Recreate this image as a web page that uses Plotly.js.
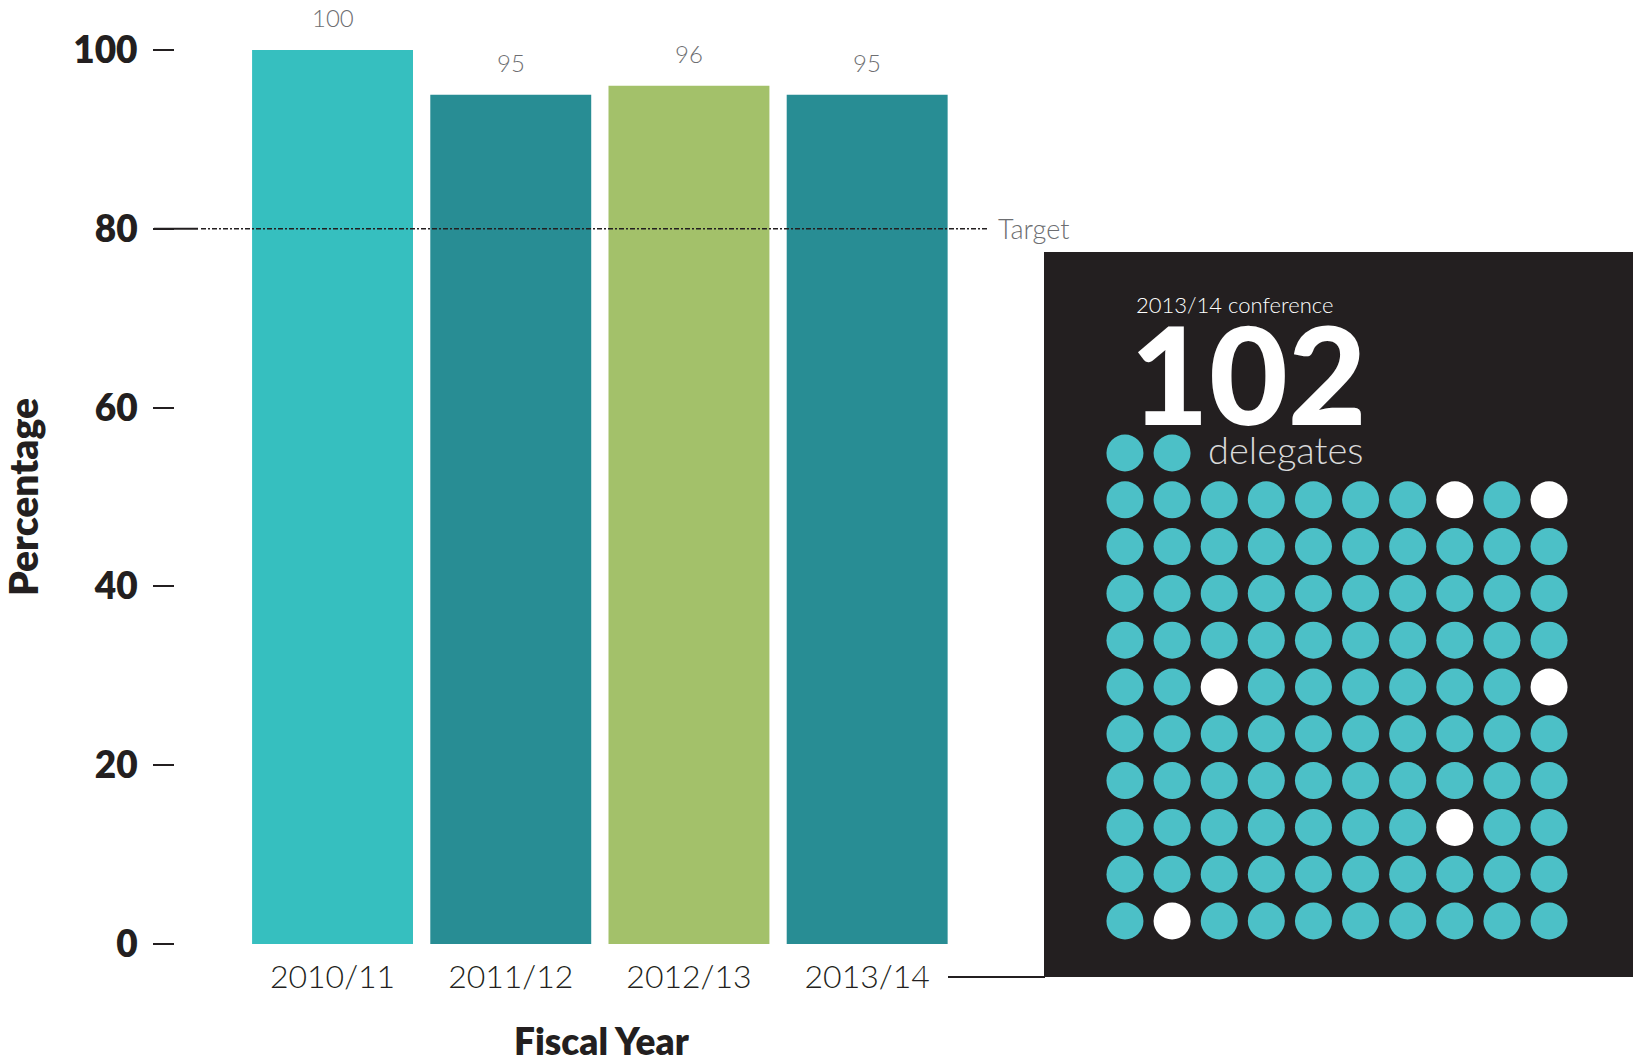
<!DOCTYPE html>
<html>
<head>
<meta charset="utf-8">
<script src="https://cdn.plot.ly/plotly-3.0.1.min.js"></script>
<style>html,body{margin:0;padding:0;background:#fff;}#chart{width:1634px;height:1064px;}</style>
</head>
<body>
<div id="chart"></div>
<script>
// ---- data ----
const fiscalYears = ["2010/11", "2011/12", "2012/13", "2013/14"];
const percentages = [100, 95, 96, 95];
const barColors = ["#36bfbf", "#288d94", "#a3c16a", "#288d94"];
const targetValue = 80;
const yTickValues = [0, 20, 40, 60, 80, 100];
const delegateCount = 102;
const conferenceLabel = "2013/14 conference";
// highlighted (white) dots as [row, column] in the 10x10 grid (rows 1..10)
const highlightedDots = [[1, 8], [1, 10], [5, 3], [5, 10], [8, 8], [10, 2]];

// ---- helpers (pixel -> paper) ----
const W = 1634, H = 1064;
const px = x => x / W;
const py = y => 1 - y / H;

// ---- dot grid layout ----
const extra = delegateCount - 100; // dots on the top row next to "delegates"
const dotX = [], dotY = [], dotC = [];
for (let i = 0; i < delegateCount; i++) {
  let row, col;
  if (i < extra) { row = 0; col = i + 1; }
  else { const k = i - extra; row = Math.floor(k / 10) + 1; col = (k % 10) + 1; }
  dotX.push(col); dotY.push(row);
  const white = highlightedDots.some(d => d[0] === row && d[1] === col);
  dotC.push(white ? "#ffffff" : "#4cc0c7");
}

const lightFont = {family: "Lato, 'Open Sans', sans-serif", weight: 300};
const boldFont = {family: "Lato, 'Open Sans', sans-serif", weight: 800};

const traces = [
  {
    type: "bar", x: fiscalYears, y: percentages,
    marker: {color: barColors, line: {width: 0}},
    hoverinfo: "x+y", xaxis: "x", yaxis: "y"
  },
  {
    type: "scatter", mode: "markers", x: dotX, y: dotY,
    marker: {color: dotC, size: 37, line: {width: 0}},
    hoverinfo: "skip", xaxis: "x2", yaxis: "y2"
  }
];

const valueAnnotations = fiscalYears.map((c, i) => ({
  x: c, y: percentages[i], xref: "x", yref: "y",
  text: String(percentages[i]), showarrow: false,
  yanchor: "middle", yshift: 32,
  font: Object.assign({size: 24, color: "#6d6e71"}, lightFont)
}));

const layout = {
  width: W, height: H,
  margin: {l: 0, r: 0, t: 0, b: 0},
  paper_bgcolor: "#ffffff", plot_bgcolor: "rgba(0,0,0,0)",
  showlegend: false,
  bargap: 0.097,
  xaxis: {
    domain: [px(175), px(988)],
    range: [-0.884, 3.678],
    type: "category",
    showgrid: false, zeroline: false, showline: false,
    ticks: "", ticklabelstandoff: 11,
    tickfont: Object.assign({size: 32, color: "#231f20"}, lightFont),
    automargin: false, fixedrange: true
  },
  yaxis: {
    domain: [py(944), py(50)],
    range: [0, 100],
    tickvals: yTickValues,
    showgrid: false, zeroline: false, showline: false,
    ticks: "outside", ticklen: 21, tickwidth: 2, tickcolor: "#231f20",
    ticklabelstandoff: 8,
    tickfont: Object.assign({size: 37, color: "#231f20"}, boldFont),
    title: {text: "Percentage", standoff: 28,
      font: Object.assign({size: 39, color: "#231f20"}, boldFont)},
    automargin: false, fixedrange: true
  },
  xaxis2: {
    domain: [px(1101.4), px(1572.6)], range: [0.5, 10.5],
    visible: false, anchor: "y2", fixedrange: true
  },
  yaxis2: {
    domain: [py(944.4), py(429.6)], range: [10.5, -0.5],
    visible: false, anchor: "x2", fixedrange: true
  },
  shapes: [
    // dark panel
    {type: "rect", xref: "paper", yref: "paper",
     x0: px(1044), x1: px(1633), y0: py(977), y1: py(252),
     fillcolor: "#231f20", line: {width: 0}, layer: "below"},
    // connector line from last category to panel
    {type: "line", xref: "paper", yref: "paper",
     x0: px(948), x1: px(1045), y0: py(977), y1: py(977),
     line: {color: "#231f20", width: 2}},
    // target: solid lead-in
    {type: "line", xref: "paper", yref: "y",
     x0: px(154), x1: px(198), y0: targetValue, y1: targetValue,
     line: {color: "#231f20", width: 2}, layer: "above"},
    // target: dotted line across bars
    {type: "line", xref: "paper", yref: "y",
     x0: px(201), x1: px(988), y0: targetValue, y1: targetValue,
     line: {color: "#231f20", width: 1.5, dash: "5px,2px,2px,2px"}, layer: "above"}
  ],
  annotations: valueAnnotations.concat([
    {xref: "paper", yref: "paper", x: px(602), y: py(1040), xanchor: "center", yanchor: "middle",
     text: "Fiscal Year", showarrow: false,
     font: Object.assign({size: 37, color: "#231f20"}, boldFont)},
    {xref: "paper", yref: "y", x: px(996), y: targetValue, xanchor: "left", yanchor: "middle",
     text: "Target", showarrow: false,
     font: Object.assign({size: 27, color: "#6d6e71"}, lightFont)},
    {xref: "paper", yref: "paper", x: px(1134), y: py(304), xanchor: "left", yanchor: "middle",
     text: conferenceLabel, showarrow: false,
     font: Object.assign({size: 22, color: "#ffffff"}, lightFont)},
    {xref: "paper", yref: "paper", x: px(1128), y: py(372), xanchor: "left", yanchor: "middle",
     text: String(delegateCount), showarrow: false,
     font: {family: "Lato, sans-serif", size: 136, color: "#ffffff", weight: 900}},
    {xref: "paper", yref: "paper", x: px(1206), y: py(449), xanchor: "left", yanchor: "middle",
     text: "delegates", showarrow: false,
     font: Object.assign({size: 38, color: "#d9d9d9"}, lightFont)}
  ])
};

Plotly.newPlot("chart", traces, layout, {displayModeBar: false, staticPlot: true});
</script>
</body>
</html>
